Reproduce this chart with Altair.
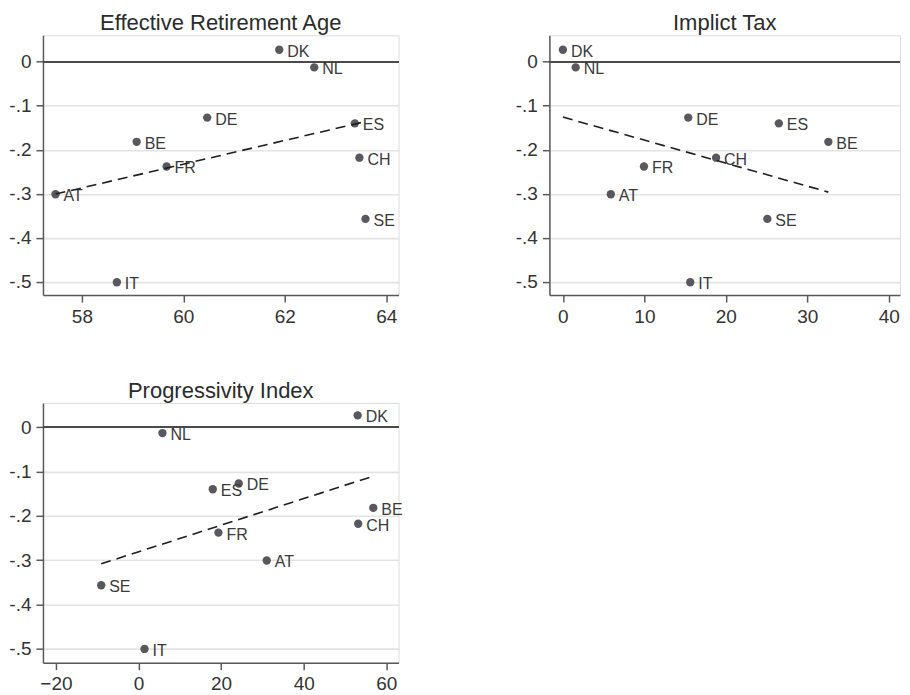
import altair as alt
import pandas as pd

countries = ["DK", "NL", "DE", "ES", "BE", "CH", "FR", "AT", "SE", "IT"]
effect = [0.027, -0.013, -0.127, -0.140, -0.182, -0.218, -0.238, -0.301, -0.357, -0.501]
retirement_age = [61.89, 62.58, 60.47, 63.38, 59.08, 63.47, 59.67, 57.48, 63.59, 58.69]
implicit_tax = [0.0, 1.57, 15.38, 26.5, 32.58, 18.8, 9.95, 5.88, 25.09, 15.63]
progressivity = [53.06, 5.8, 24.27, 17.98, 56.85, 53.2, 19.35, 31.05, -9.03, 1.45]

titles = ["Effective Retirement Age", "Implict Tax", "Progressivity Index"]
x_ticks = [[58, 60, 62, 64], [0, 10, 20, 30, 40], [-20, 0, 20, 40, 60]]
x_domains = [[57.233, 64.242], [-1.657, 41.37], [-23.14, 62.97]]
y_domains = [[-0.530, 0.0598], [-0.530, 0.0598], [-0.532, 0.0551]]
y_ticks = [0, -0.1, -0.2, -0.3, -0.4, -0.5]
widths = [356, 351, 356]

FONT = "Liberation Sans"
PT = "#58585e"
AX = dict(domainColor="#5a5a5a", domainWidth=1.5, tickColor="#5a5a5a", tickWidth=1.5, tickSize=7,
          labelFont=FONT, labelFontSize=19, labelColor="#333333", labelPadding=5)


def panel(xvals, title, xticks, xdom, ydom, w):
    df = pd.DataFrame({"country": countries, "x": xvals, "y": effect})
    base = alt.Chart(df)
    xs = alt.Scale(domain=xdom, nice=False, zero=False)
    ys = alt.Scale(domain=ydom, nice=False, zero=False)
    xenc = alt.X("x:Q", scale=xs, axis=alt.Axis(values=xticks, title=None, grid=False, format="d", **AX))
    yenc = alt.Y("y:Q", scale=ys, axis=alt.Axis(
        values=y_ticks, title=None, grid=True, gridColor="#e3e3e3", gridWidth=1.6,
        labelExpr="datum.value == 0 ? '0' : '-.' + round(-datum.value * 10)", **AX))
    pts = base.mark_circle(size=70, color=PT, opacity=1).encode(x=xenc, y=yenc)
    zero = base.mark_rule(color="#4a4a4a", strokeWidth=1.4).encode(y=alt.datum(0))
    lbl = base.mark_text(align="left", baseline="middle", dx=8, dy=2, fontSize=16,
                         font=FONT, color="#3a3a3a").encode(x="x:Q", y="y:Q", text="country:N")
    reg = base.transform_regression("x", "y").mark_line(
        strokeDash=[10, 6], color="#1e1e1e", strokeWidth=1.6).encode(x="x:Q", y="y:Q")
    return alt.layer(pts, zero, lbl, reg).properties(
        width=w, height=260,
        title=alt.Title(title, fontSize=22, font=FONT, fontWeight="normal", color="#2b2b2b",
                        offset=0))


xs_all = [retirement_age, implicit_tax, progressivity]
panels = [panel(xs_all[i], titles[i], x_ticks[i], x_domains[i], y_domains[i], widths[i]) for i in range(3)]

chart = alt.concat(*panels, columns=2, spacing=alt.RowColnumber(row=108, column=151),
                   bounds="flush").properties(
    padding={"left": 0, "top": 3, "right": 0, "bottom": 0}
).configure_view(stroke=None).configure(background="white")

chart.save("out.html", embed_options={"renderer": "svg", "actions": False})
